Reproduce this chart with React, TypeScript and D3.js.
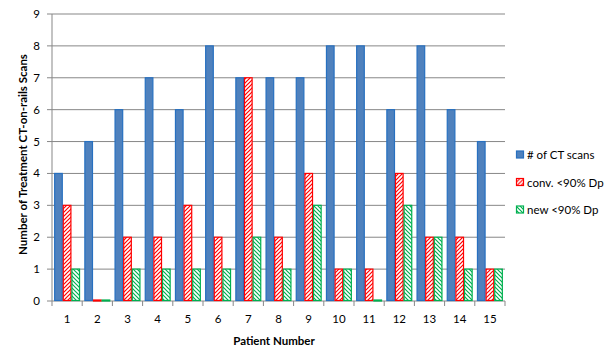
import React from "react";
import * as d3 from "d3";

const patients = ["1","2","3","4","5","6","7","8","9","10","11","12","13","14","15"];
const ctScans = [4,5,6,7,6,8,7,7,7,8,8,6,8,6,5];
const convBelow = [3,0,2,2,3,2,7,2,4,1,1,4,2,2,1];
const newBelow = [1,0,1,1,1,1,2,1,3,1,0,3,2,1,1];
const yTicks = [0,1,2,3,4,5,6,7,8,9];
const seriesNames = ["# of CT scans", "conv. <90% Dp", "new <90% Dp"];

const W = 615, H = 356;
const left = 52, right = 505, top = 14, bottom = 301;
const font = "Lato, 'Open Sans', sans-serif";

export default function App() {
  const x = d3.scaleBand<string>().domain(patients).range([left, right]).paddingInner(0).paddingOuter(0);
  const inner = d3.scaleBand<number>().domain([0,1,2]).range([0, x.bandwidth()]).paddingOuter(0.25).paddingInner(0);
  const y = d3.scaleLinear().domain([0, 9]).range([bottom, top]);
  const series = [ctScans, convBelow, newBelow];
  const fills = ["#4F81BD", "url(#hatchRed)", "url(#hatchGreen)"];
  const strokes = ["#2770C0", "#FF0000", "#00B050"];
  const grid = "#878787";
  return (
    <svg width={W} height={H} style={{ position: "absolute", left: 0, top: 0, background: "#fff" }}>
      <defs>
        <pattern id="hatchRed" patternUnits="userSpaceOnUse" width="4" height="4">
          <rect width="4" height="4" fill="#fff" />
          <path d="M-1,1 l2,-2 M0,4 l4,-4 M3,5 l2,-2" stroke="#FF0000" strokeWidth="1.2" />
        </pattern>
        <pattern id="hatchGreen" patternUnits="userSpaceOnUse" width="4" height="4">
          <rect width="4" height="4" fill="#fff" />
          <path d="M-1,3 l2,2 M0,0 l4,4 M3,-1 l2,2" stroke="#00B050" strokeWidth="1.2" />
        </pattern>
      </defs>
      {yTicks.map(t => (
        <g key={t}>
          <line x1={left - 5} x2={right} y1={y(t)} y2={y(t)} stroke={grid} strokeWidth={1} />
          <text x={left - 12} y={y(t)} dy="0.35em" textAnchor="end" fontFamily={font} fontSize={11.5} fill="#000">{t}</text>
        </g>
      ))}
      <line x1={left} x2={left} y1={top} y2={bottom} stroke={grid} strokeWidth={1} />
      {patients.map((p, i) => (
        <line key={"t" + i} x1={x(p)!} x2={x(p)!} y1={bottom} y2={bottom + 5} stroke={grid} />
      ))}
      <line x1={right} x2={right} y1={bottom} y2={bottom + 5} stroke={grid} />
      {patients.map((p, i) => (
        <g key={p}>
          {series.map((s, k) => {
            const v = s[i];
            const bx = x(p)! + inner(k)!;
            const bw = inner.bandwidth();
            const yy = y(v);
            const h = Math.max(bottom - yy, 0);
            return (
              <rect key={k} x={bx + 0.5} y={yy - (h === 0 ? 1 : 0)} width={bw - 1} height={h === 0 ? 1 : h - 0.5}
                fill={fills[k]} stroke={strokes[k]} strokeWidth={1.2} />
            );
          })}
          <text x={x(p)! + x.bandwidth() / 2} y={319} dy="0.35em" textAnchor="middle" fontFamily={font} fontSize={11.5} fill="#000">{p}</text>
        </g>
      ))}
      <text x={274} y={341} dy="0.35em" textAnchor="middle" fontFamily={font} fontSize={11.5} fontWeight="bold" fill="#000">Patient Number</text>
      <text transform={`translate(23,${(top + bottom) / 2 - 3}) rotate(-90)`} textAnchor="middle" dy="0.35em" fontFamily={font} fontSize={11.5} fontWeight="bold" fill="#000">Number of Treatment CT-on-rails Scans</text>
      {seriesNames.map((n, k) => (
        <g key={n} transform={`translate(516,${155 + k * 27.5})`}>
          <rect x={0.5} y={-4} width={7} height={7} fill={fills[k]} stroke={strokes[k]} strokeWidth={1.2} />
          <text x={11} y={0} dy="0.35em" fontFamily={font} fontSize={11.5} fill="#000">{n}</text>
        </g>
      ))}
    </svg>
  );
}
